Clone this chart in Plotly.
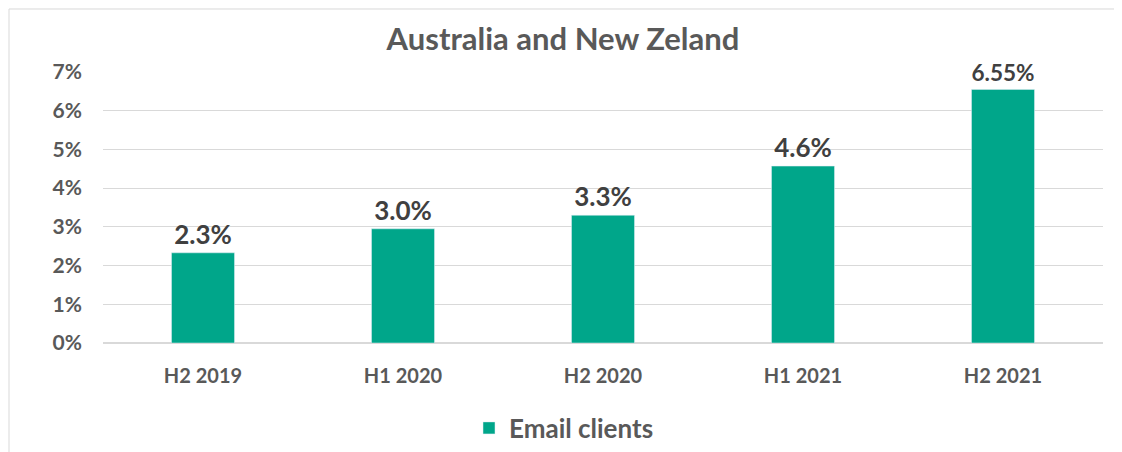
import plotly.graph_objects as go

categories = ["H2 2019", "H1 2020", "H2 2020", "H1 2021", "H2 2021"]
values = [2.33, 2.95, 3.3, 4.57, 6.55]
labels = ["2.3%", "3.0%", "3.3%", "4.6%", "6.55%"]
tick_vals = [0, 1, 2, 3, 4, 5, 6, 7]
tick_text = ["0%", "1%", "2%", "3%", "4%", "5%", "6%", "7%"]

FONT = "Lato, Open Sans, sans-serif"

fig = go.Figure()
fig.add_trace(go.Bar(
    x=categories, y=values, name="Email clients",
    marker=dict(color="#00A68A"),
    text=labels, textposition="outside", cliponaxis=False,
    textfont=dict(family=FONT, size=26, color="#404040", weight="bold"),
))

fig.update_layout(
    width=1122, height=452,
    margin=dict(l=95, r=27, t=64, b=117, autoexpand=False),
    paper_bgcolor="white", plot_bgcolor="white",
    bargap=0.685,
    title=dict(text="<b>Australia and New Zeland</b>", x=0.46, xanchor="center",
               xref="paper",
               y=1 - 31 / 452, yanchor="middle",
               font=dict(family=FONT, size=31, color="#595959")),
    showlegend=True,
    legend=dict(orientation="h", x=0.461, xanchor="center",
                yref="container", y=1 - 420 / 452, yanchor="middle",
                itemwidth=30,
                font=dict(family=FONT, size=26, color="#595959", weight="bold")),
    font=dict(family=FONT),
    shapes=[dict(type="rect", xref="paper", yref="paper", x0=-0.094, x1=1.014,
                 y0=-0.6, y1=1.2325, line=dict(color="#d9d9d9", width=1),
                 fillcolor="rgba(0,0,0,0)", layer="below")],
)
fig.update_xaxes(showgrid=False, showline=False, ticks="", ticklabelstandoff=19,
                 tickfont=dict(family=FONT, size=20, color="#595959", weight="bold"))
fig.update_yaxes(range=[0, 7], tickvals=tick_vals, ticktext=tick_text,
                 showgrid=True, gridcolor="#d9d9d9", gridwidth=1, zeroline=True,
                 zerolinecolor="#d9d9d9", ticklabelstandoff=20,
                 tickfont=dict(family=FONT, size=21, color="#595959", weight="bold"))

fig.write_html("out.html")
